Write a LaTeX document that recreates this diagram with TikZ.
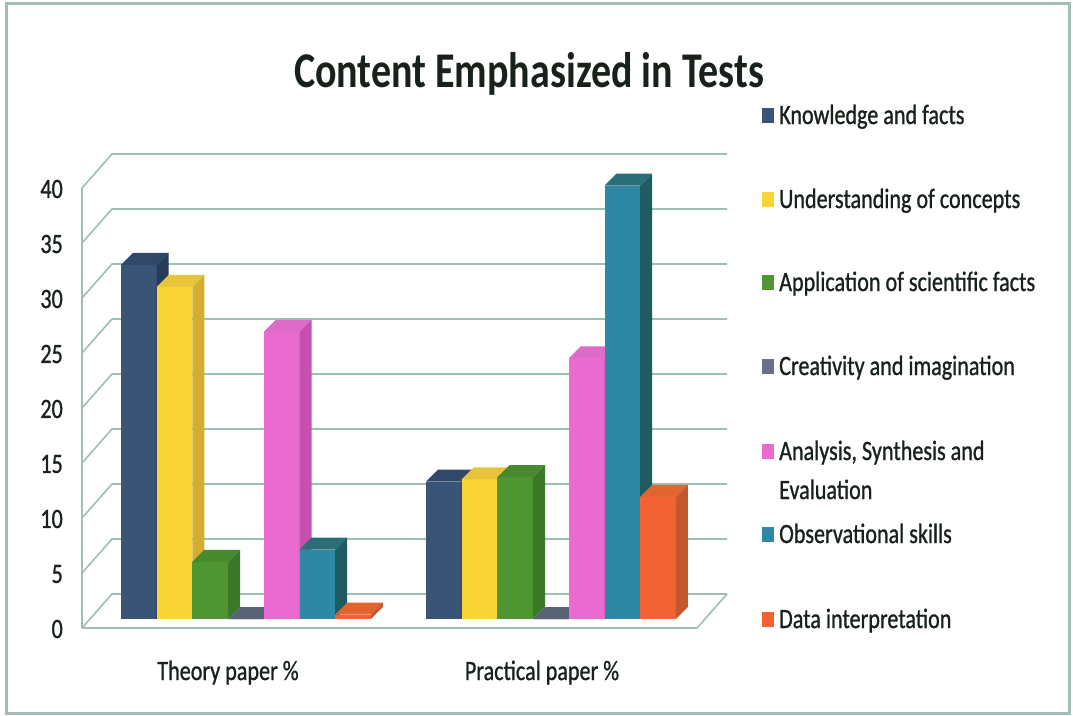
\documentclass[tikz,border=0pt]{standalone}
\usepackage{fontspec}
\newfontfamily\cf[FakeStretch=0.79,FakeBold=0.9]{Carlito}
\newfontfamily\cfb[FakeStretch=0.8]{Carlito Bold}
\definecolor{ink}{HTML}{18221B}
\definecolor{gridc}{HTML}{9DC0B3}
\definecolor{framec}{HTML}{A3BDB0}
\definecolor{knF}{HTML}{3A5478}\definecolor{knT}{HTML}{30496A}\definecolor{knS}{HTML}{263D58}
\definecolor{unF}{HTML}{F8D535}\definecolor{unT}{HTML}{E8C43A}\definecolor{unS}{HTML}{D3AE30}
\definecolor{apF}{HTML}{4F9632}\definecolor{apT}{HTML}{478A2E}\definecolor{apS}{HTML}{3B7828}
\definecolor{crF}{HTML}{6A7186}\definecolor{crT}{HTML}{5A6275}\definecolor{crS}{HTML}{4A5062}
\definecolor{anF}{HTML}{EA6BD0}\definecolor{anT}{HTML}{DC6CC8}\definecolor{anS}{HTML}{C452AD}
\definecolor{obF}{HTML}{2E87A5}\definecolor{obT}{HTML}{2A6E78}\definecolor{obS}{HTML}{1F5B63}
\definecolor{daF}{HTML}{F26232}\definecolor{daT}{HTML}{E2642F}\definecolor{daS}{HTML}{C4582C}
\newcommand\cbar[3]{% x, value, series
  \fill[#3F] (#1,619) rectangle (#1+35.7,619-11*#2);
  \fill[#3T] (#1,619-11*#2) -- ++(12,-12) -- ++(35.7,0) -- ++(-12,12) -- cycle;
  \fill[#3S] (#1+35.7,619) -- ++(12,-12) -- ++(0,-11*#2) -- ++(-12,12) -- cycle;
}
\begin{document}
\begin{tikzpicture}[x=1pt,y=-1pt,
  txt/.style={font=\cf\fontsize{28}{30}\selectfont, text=ink, inner sep=0pt},
  gridline/.style={draw=gridc, line width=1.6pt, line join=round},
  legsq/.style={inner sep=0pt, minimum width=12pt, minimum height=15pt}]
\useasboundingbox (0,0) rectangle (1073,715);
\fill[white] (0,0) rectangle (1073,715);
\draw[framec, line width=3pt] (6,3) rectangle (1069,713);
% title
\node[font=\cfb\fontsize{50}{55}\selectfont, text=ink, inner sep=0pt, anchor=base] (title) at (529,87) {Content Emphasized in Tests};
% walls and grid
\foreach \v in {0,5,...,40} {
  \draw[gridline] (82,628-11*\v) -- (112,594-11*\v) -- (727,594-11*\v);
  \node[txt, anchor=east] (y\v) at (63,629-11*\v) {\v};
}
\draw[gridline] (82,188) -- (82,628) -- (697,628) -- (727,594);
% theory bars
\cbar{121}{32.2}{kn}
\cbar{156.7}{30.2}{un}
\cbar{192.4}{5.2}{ap}
\cbar{228.1}{0}{cr}
\cbar{263.8}{26.1}{an}
\cbar{299.5}{6.3}{ob}
\cbar{335.2}{0.4}{da}
% practical bars
\cbar{426}{12.5}{kn}
\cbar{461.7}{12.7}{un}
\cbar{497.4}{12.9}{ap}
\cbar{533.1}{0}{cr}
\cbar{568.8}{23.7}{an}
\cbar{604.5}{39.4}{ob}
\cbar{640.2}{11.1}{da}
% category labels
\node[txt, anchor=base] (cat1) at (228,680) {Theory paper \%};
\node[txt, anchor=base] (cat2) at (542,680) {Practical paper \%};
% legend
\node[legsq, fill=knF] (s1) at (768,115) {};
\node[txt, anchor=base west] (l1) at (779,124) {Knowledge and facts};
\node[legsq, fill=unF] (s2) at (768,199) {};
\node[txt, anchor=base west] (l2) at (779,208) {Understanding of concepts};
\node[legsq, fill=apF] (s3) at (768,282) {};
\node[txt, anchor=base west] (l3) at (779,291) {Application of scientific facts};
\node[legsq, fill=crF] (s4) at (768,366) {};
\node[txt, anchor=base west] (l4) at (779,375) {Creativity and imagination};
\node[legsq, fill=anF] (s5) at (768,451) {};
\node[txt, anchor=base west] (l5) at (779,460) {Analysis, Synthesis and};
\node[txt, anchor=base west] (l5b) at (779,499) {Evaluation};
\node[legsq, fill=obF] (s6) at (768,534) {};
\node[txt, anchor=base west] (l6) at (779,543) {Observational skills};
\node[legsq, fill=daF] (s7) at (768,619) {};
\node[txt, anchor=base west] (l7) at (779,628) {Data interpretation};
\end{tikzpicture}
\end{document}
